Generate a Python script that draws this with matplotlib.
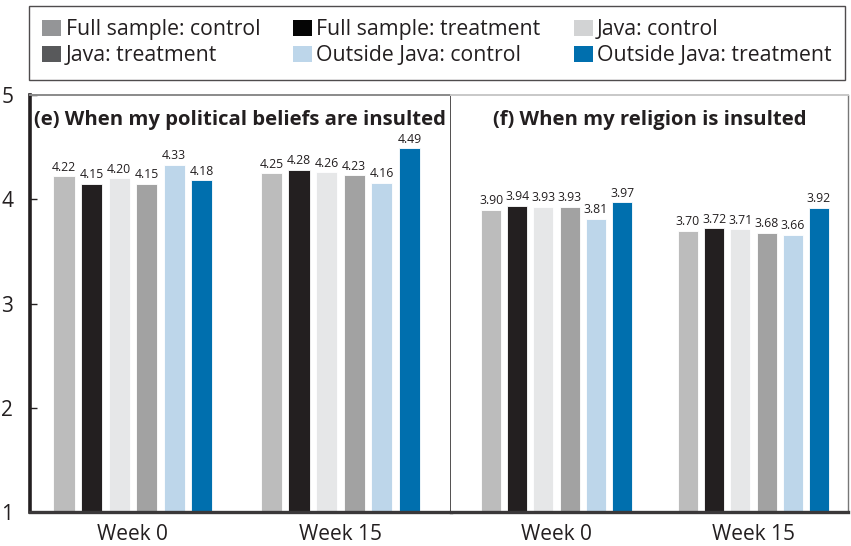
import matplotlib

matplotlib.use("Agg")
import matplotlib.pyplot as plt
import numpy as np
from matplotlib.patches import Patch

plt.rcParams["font.family"] = ["Open Sans", "DejaVu Sans"]

# survey responses, 1-5 scale, by wave
weeks = ["Week 0", "Week 15"]
series = ["Full sample: control", "Full sample: treatment", "Java: control",
          "Java: treatment", "Outside Java: control", "Outside Java: treatment"]

# (e) political beliefs insulted: one list per series, [week 0, week 15]
pol_full_ctrl = [4.22, 4.25]
pol_full_trt = [4.15, 4.28]
pol_java_ctrl = [4.20, 4.26]
pol_java_trt = [4.15, 4.23]
pol_out_ctrl = [4.33, 4.16]
pol_out_trt = [4.18, 4.49]

# (f) religion insulted
rel_full_ctrl = [3.90, 3.70]
rel_full_trt = [3.94, 3.72]
rel_java_ctrl = [3.93, 3.71]
rel_java_trt = [3.93, 3.68]
rel_out_ctrl = [3.81, 3.66]
rel_out_trt = [3.97, 3.92]

political = [pol_full_ctrl, pol_full_trt, pol_java_ctrl,
             pol_java_trt, pol_out_ctrl, pol_out_trt]
religion = [rel_full_ctrl, rel_full_trt, rel_java_ctrl,
            rel_java_trt, rel_out_ctrl, rel_out_trt]

BAR_COLOURS = ["#bcbcbc", "#231f20", "#e6e7e8", "#a2a2a2", "#bdd6ea", "#006fae"]
KEY_COLOURS = ["#949597", "#050505", "#d2d3d4", "#58595b", "#bdd6ea", "#006fae"]
INK = "#231f20"

W, H = 851, 546
fig = plt.figure(figsize=(W / 100, H / 100), dpi=100, facecolor="white")


def px_axes(x0, x1, y_top, y_bot):
    return fig.add_axes([x0 / W, 1 - y_bot / H, (x1 - x0) / W, (y_bot - y_top) / H])


ax_e = px_axes(30, 451, 95, 512)
ax_f = px_axes(451, 848, 95, 512)

PITCH = 0.133
BAR_W = 0.102
x = np.arange(len(weeks))


def draw_panel(ax, data, title, xlim):
    for i, vals in enumerate(data):
        xs = x + (i - 2.5) * PITCH
        ax.bar(xs, np.array(vals) - 1, bottom=1, width=BAR_W,
               color=BAR_COLOURS[i], edgecolor="white", linewidth=0.6)
        for xx, v in zip(xs, vals):
            ax.text(xx, v + 0.025, f"{v:.2f}", ha="center", va="bottom",
                    fontsize=8.8, color=INK)
    ax.set_xlim(*xlim)
    ax.set_ylim(1, 5)
    ax.set_xticks(x)
    ax.set_xticklabels(weeks, fontsize=15, color=INK)
    ax.tick_params(axis="x", length=0, pad=9)
    ax.set_title(title, fontsize=14.6, fontweight="bold", color=INK,
                 y=0.92, va="center")


draw_panel(ax_e, political, "(e) When my political beliefs are insulted",
           (-0.496, 1.533))
draw_panel(ax_f, religion, "(f) When my religion is insulted",
           (-0.536, 1.480))

ax_e.set_yticks([1, 2, 3, 4, 5])
ax_e.tick_params(axis="y", direction="in", length=5, width=1, color=INK,
                 labelsize=15, labelcolor=INK, pad=12)
ax_f.set_yticks([])

for ax in (ax_e, ax_f):
    ax.spines["bottom"].set_color("#3a3839")
    ax.spines["bottom"].set_linewidth(2.4)
ax_e.spines["left"].set_color(INK)
ax_e.spines["left"].set_linewidth(2.6)
ax_e.spines["top"].set_color("#8a8a8a")
ax_e.spines["top"].set_linewidth(1.4)
ax_e.spines["right"].set_color(INK)
ax_e.spines["right"].set_linewidth(1.1)
ax_f.spines["left"].set_visible(False)
ax_f.spines["top"].set_color("#c8c8c8")
ax_f.spines["top"].set_linewidth(1.4)
ax_f.spines["right"].set_color("#777777")
ax_f.spines["right"].set_linewidth(1.0)

order = [0, 3, 1, 4, 2, 5]
handles = [Patch(facecolor=KEY_COLOURS[i], edgecolor="none") for i in order]
labels = [series[i] for i in order]
leg = fig.legend(handles, labels, ncol=3, loc="upper left",
                 bbox_to_anchor=(29 / W, 1 - 6 / H),
                 fontsize=15.3, frameon=True, fancybox=False,
                 handlelength=0.9, handleheight=0.8, handletextpad=0.2,
                 labelspacing=0.25, columnspacing=1.55, borderpad=0.62,
                 borderaxespad=0)
leg.get_frame().set_edgecolor(INK)
leg.get_frame().set_linewidth(1.0)
for t in leg.get_texts():
    t.set_color(INK)

fig.savefig("out.png", dpi=100, facecolor="white")
